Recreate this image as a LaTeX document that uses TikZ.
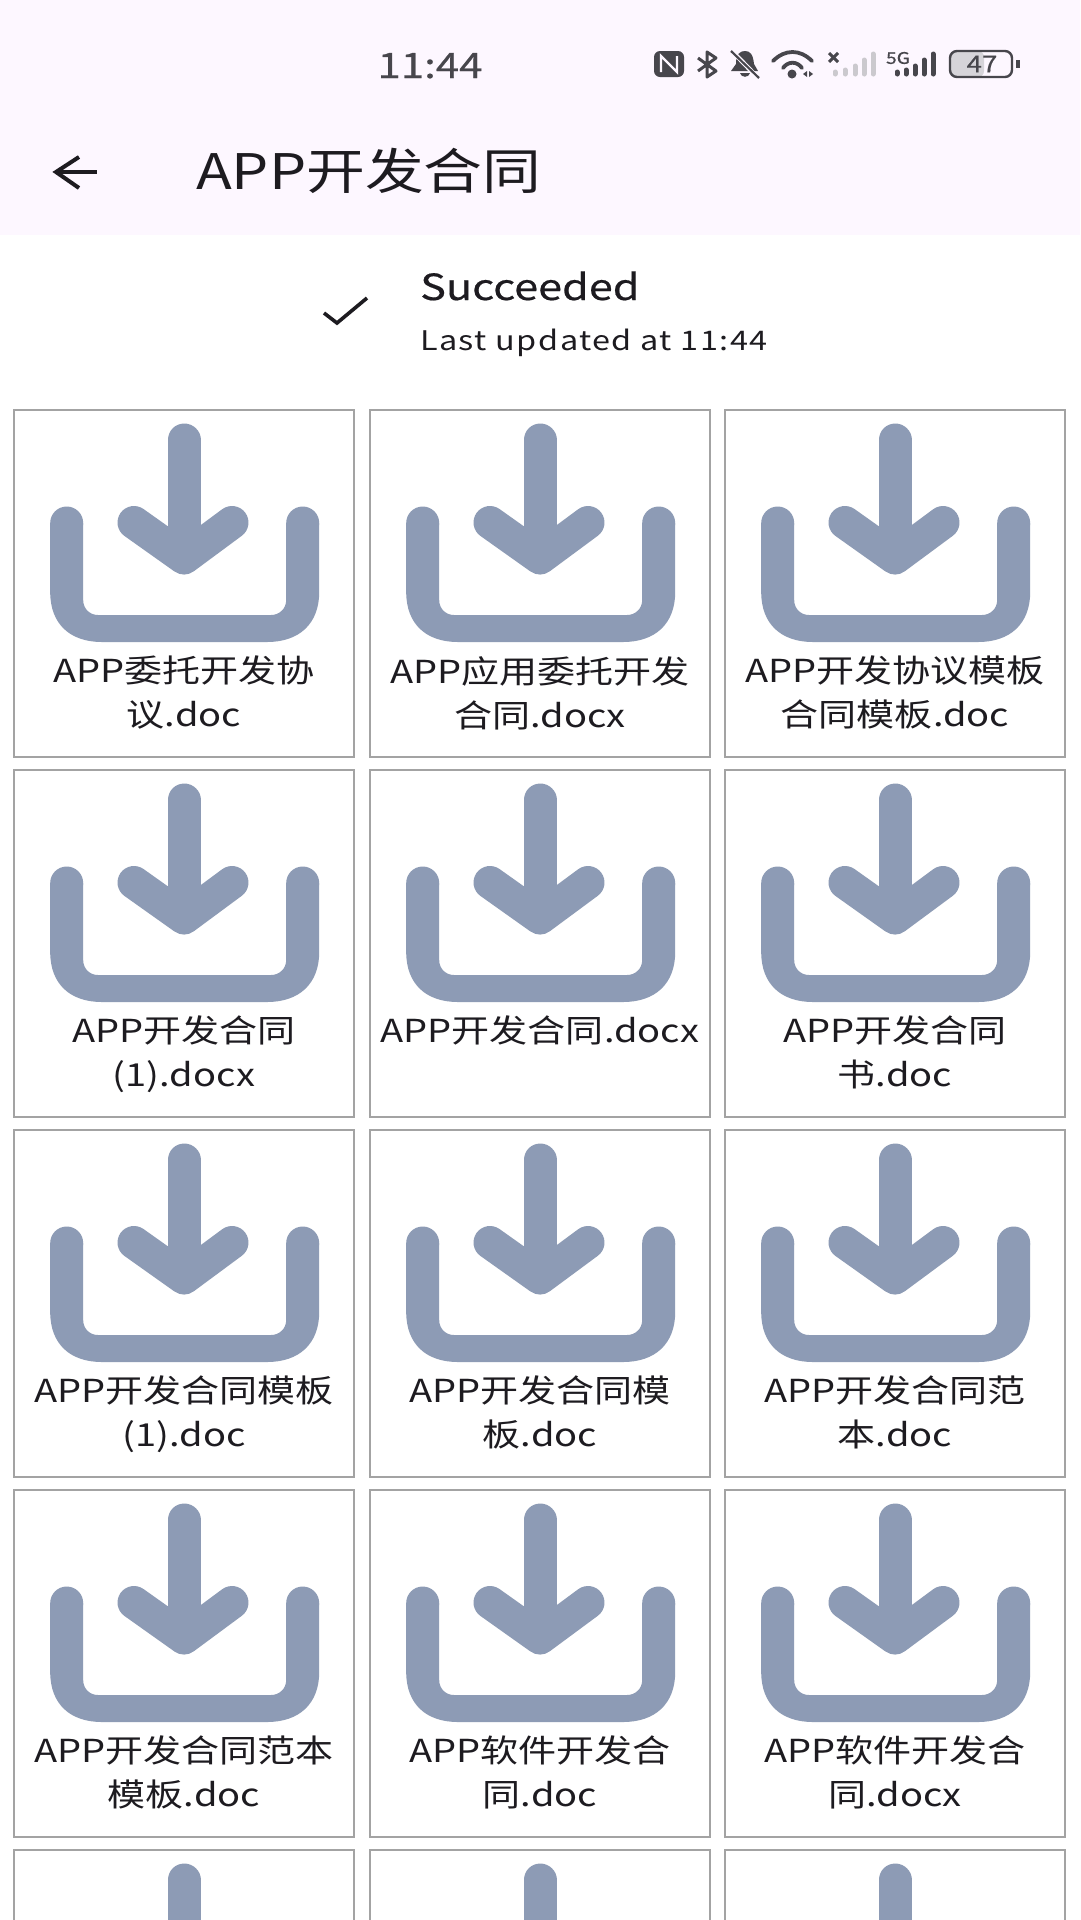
\documentclass[tikz,border=0pt]{standalone}
\usepackage{fontspec}
\setmainfont[FakeStretch=1.2]{Noto Sans CJK SC}
\newfontfamily\heavyfont[FakeStretch=1.2,FakeBold=0.5]{Noto Sans CJK SC}
\newfontfamily\spacedfont[FakeStretch=1.2,LetterSpace=5.4]{Noto Sans CJK SC}
\usetikzlibrary{positioning}

\definecolor{barcolor}{HTML}{FDF7FF}
\definecolor{inkcolor}{HTML}{1D1B20}
\definecolor{statuscolor}{HTML}{47464C}
\definecolor{fadecolor}{HTML}{CBC9CE}
\definecolor{batterycolor}{HTML}{D6D4D9}
\definecolor{traycolor}{HTML}{8D9BB5}
\definecolor{edgecolor}{HTML}{A3A3A3}

\tikzset{
  cellbox/.style={draw=edgecolor, line width=2.8pt, fill=white, anchor=north west, outer sep=0pt, inner sep=0pt, minimum width=340pt, minimum height=347pt},
  filename/.style={text=inkcolor, anchor=north, align=center, inner sep=0pt, font=\fontsize{31.7}{44}\selectfont},
  traystroke/.style={draw=traycolor, line width=33pt, line cap=round, line join=round},
  statusbar/.style={statuscolor, line width=5pt, line cap=round},
  fadebar/.style={fadecolor, line width=5pt, line cap=round},
  tray/.pic={
    \draw[traystroke] (170, 30) -- (170, 145);
    \draw[traystroke] (120, 112.5) -- (170, 148) -- (218, 112.5);
    \fill[traycolor] (36.2, 113) -- (36.2, 182) .. controls (36.2, 214) and (56, 232) .. (88, 232) -- (253, 232) .. controls (285, 232) and (305.2, 214) .. (305.2, 182) -- (305.2, 113) -- (272.2, 113) -- (272.2, 190) .. controls (272.2, 199) and (265, 205) .. (257, 205) -- (84, 205) .. controls (76, 205) and (69.2, 199) .. (69.2, 190) -- (69.2, 113) -- cycle;
    \fill[traycolor] (52.7, 113) circle (16.5pt);
    \fill[traycolor] (288.7, 113) circle (16.5pt);
  }
}

\begin{document}
\begin{tikzpicture}[x=1pt, y=-1pt]
  \useasboundingbox (0, 0) rectangle (1080, 1920);
  \clip (0, 0) rectangle (1080, 1920);
  \fill[white] (0, 0) rectangle (1080, 1920);

  % App bar
  \fill[barcolor] (0, 0) rectangle (1080, 235);
  \node[text=statuscolor, font=\heavyfont\fontsize{35}{40}\selectfont, anchor=base] (clock) at (430, 78) {11:44};
  \node[text=inkcolor, font=\fontsize{49}{54}\selectfont, anchor=base west, inner sep=0pt] (title) at (196, 189) {APP开发合同};
  \draw[inkcolor, line width=4pt] (56, 172) -- (97, 172); % Back arrow
  \draw[inkcolor, line width=4pt, line join=miter] (79, 157) -- (56, 172) -- (79, 188);

  % Status icons
  \fill[statuscolor, rounded corners=6pt] (654, 51) rectangle (684, 77); % NFC
  \draw[barcolor, line width=2.4pt] (661, 72) -- (661, 56) -- (677, 72) -- (677, 56);
  \draw[statuscolor, line width=3pt, line join=round] (698, 58) -- (716, 71) -- (707, 77) -- (707, 52) -- (716, 58) -- (698, 71); % Bluetooth
  \fill[statuscolor] (731, 71) -- (736, 64) .. controls (736, 54) and (740, 51) .. (745, 51) .. controls (750, 51) and (753, 54) .. (754, 64) -- (758, 71) -- cycle; % Bell
  \fill[statuscolor] (740, 73) -- (750, 73) .. controls (749, 78) and (741, 78) .. (740, 73) -- cycle;
  \draw[barcolor, line width=4.5pt] (731, 50) -- (760, 80);
  \draw[statuscolor, line width=2.2pt] (731, 51) -- (759, 78);
  \draw[statuscolor, line width=3.8pt, line cap=round] (773, 61) .. controls (785, 49) and (800, 49) .. (812, 61); % Wifi
  \draw[statuscolor, line width=3.8pt, line cap=round] (783, 68) .. controls (788, 61) and (797, 61) .. (802, 68);
  \fill[statuscolor] (792, 74) circle (4.5pt);
  \fill[statuscolor] (803, 74) -- (807, 71) -- (807, 77) -- cycle;
  \fill[statuscolor] (813, 74) -- (809, 71) -- (809, 77) -- cycle;
  \draw[statuscolor, line width=3pt] (829, 53) -- (838, 62); % No signal
  \draw[statuscolor, line width=3pt] (838, 53) -- (829, 62);
  \draw[fadebar] (835, 74) -- (835, 72);
  \draw[fadebar] (845, 74) -- (845, 70);
  \draw[fadebar] (855, 74) -- (855, 66);
  \draw[fadebar] (864, 74) -- (864, 60);
  \draw[fadebar] (873, 74) -- (873, 54);
  \node[text=statuscolor, font=\heavyfont\fontsize{16}{18}\selectfont, inner sep=0pt] (network) at (898, 58) {5G}; % Signal
  \draw[statusbar] (897, 74) -- (897, 72);
  \draw[statusbar] (906, 74) -- (906, 70);
  \draw[statusbar] (915, 74) -- (915, 66);
  \draw[statusbar] (924, 74) -- (924, 60);
  \draw[statusbar] (933, 74) -- (933, 54);
  \fill[batterycolor, rounded corners=6pt] (950, 51) rectangle (984, 77); % Battery
  \draw[statuscolor, line width=2.4pt, rounded corners=7pt] (950, 51) rectangle (1012, 77);
  \draw[statuscolor, line width=4pt] (1018, 60) -- (1018, 68);
  \node[text=statuscolor, font=\heavyfont\fontsize{23}{26}\selectfont, inner sep=0pt] (battery) at (982, 64) {47};

  % Sync state
  \draw[inkcolor, line width=3.6pt] (324, 313) -- (337, 323) -- (367, 298);
  \node[text=inkcolor, font=\heavyfont\fontsize{36}{40}\selectfont, anchor=base west, inner sep=0pt] (state) at (420, 300) {Succeeded};
  \node[text=inkcolor, font=\spacedfont\fontsize{27}{30}\selectfont, anchor=base west, inner sep=0pt] (updated) at (420, 350) {Last updated at 11:44};

  % Row 1
  \node[cellbox] (box11) at (14, 410) {};
  \pic at (box11.north west) {tray};
  \node[filename] (name11) at (184, 656) {APP委托开发协\\议.doc};
  \node[cellbox] (box12) at (370, 410) {};
  \pic at (box12.north west) {tray};
  \node[filename] (name12) at (540, 656) {APP应用委托开发\\合同.docx};
  \node[cellbox] (box13) at (725, 410) {};
  \pic at (box13.north west) {tray};
  \node[filename] (name13) at (895, 656) {APP开发协议模板\\合同模板.doc};

  % Row 2
  \node[cellbox] (box21) at (14, 770) {};
  \pic at (box21.north west) {tray};
  \node[filename] (name21) at (184, 1016) {APP开发合同\\(1).docx};
  \node[cellbox] (box22) at (370, 770) {};
  \pic at (box22.north west) {tray};
  \node[filename] (name22) at (540, 1016) {APP开发合同.docx};
  \node[cellbox] (box23) at (725, 770) {};
  \pic at (box23.north west) {tray};
  \node[filename] (name23) at (895, 1016) {APP开发合同\\书.doc};

  % Row 3
  \node[cellbox] (box31) at (14, 1130) {};
  \pic at (box31.north west) {tray};
  \node[filename] (name31) at (184, 1376) {APP开发合同模板\\(1).doc};
  \node[cellbox] (box32) at (370, 1130) {};
  \pic at (box32.north west) {tray};
  \node[filename] (name32) at (540, 1376) {APP开发合同模\\板.doc};
  \node[cellbox] (box33) at (725, 1130) {};
  \pic at (box33.north west) {tray};
  \node[filename] (name33) at (895, 1376) {APP开发合同范\\本.doc};

  % Row 4
  \node[cellbox] (box41) at (14, 1490) {};
  \pic at (box41.north west) {tray};
  \node[filename] (name41) at (184, 1736) {APP开发合同范本\\模板.doc};
  \node[cellbox] (box42) at (370, 1490) {};
  \pic at (box42.north west) {tray};
  \node[filename] (name42) at (540, 1736) {APP软件开发合\\同.doc};
  \node[cellbox] (box43) at (725, 1490) {};
  \pic at (box43.north west) {tray};
  \node[filename] (name43) at (895, 1736) {APP软件开发合\\同.docx};

  % Row 5, cut off by the screen edge
  \node[cellbox] (box51) at (14, 1850) {};
  \pic at (box51.north west) {tray};
  \node[cellbox] (box52) at (370, 1850) {};
  \pic at (box52.north west) {tray};
  \node[cellbox] (box53) at (725, 1850) {};
  \pic at (box53.north west) {tray};
\end{tikzpicture}
\end{document}
